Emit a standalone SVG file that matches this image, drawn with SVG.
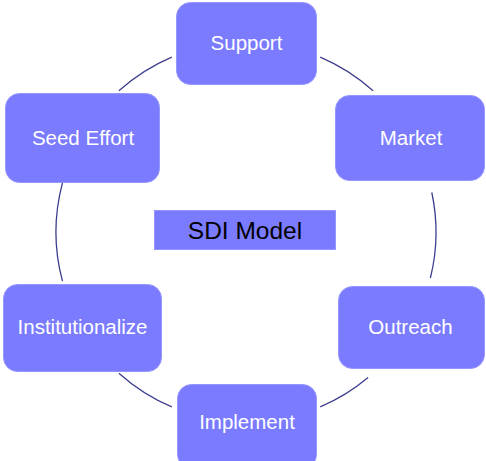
<svg xmlns="http://www.w3.org/2000/svg" width="486" height="461" viewBox="0 0 486 461">
<style>
.box{fill:#7b7bff;stroke:#9696ff;stroke-width:1}
.lbl{font-family:"Liberation Sans",Arial,sans-serif;font-size:20.5px;fill:#ffffff;text-anchor:middle}
.title{font-family:"Liberation Sans",Arial,sans-serif;font-size:24.5px;fill:#000000;text-anchor:middle}
.arc{fill:none;stroke:#3d3d8f;stroke-width:1.3}
</style>
<rect width="486" height="461" fill="#ffffff"/>
<g id="connectors">
<path class="arc" d="M118.9,90.8 A190,190 0 0 1 171.8,57.1"/>
<path class="arc" d="M320.2,57.1 A190,190 0 0 1 373.1,90.8"/>
<path class="arc" d="M431.8,192.5 A190,190 0 0 1 430.4,278"/>
<path class="arc" d="M368.1,377.5 A190,190 0 0 1 320.2,406.9"/>
<path class="arc" d="M171.8,406.9 A190,190 0 0 1 118.9,373.2"/>
<path class="arc" d="M62.5,281.2 A190,190 0 0 1 62.5,182.8"/>
</g>
<g id="support">
<rect class="box" x="176.5" y="2.5" width="140" height="82" rx="14"/>
<text class="lbl" x="246.5" y="50">Support</text>
</g>
<g id="market">
<rect class="box" x="335.5" y="95.5" width="149" height="85" rx="14"/>
<text class="lbl" x="411" y="145">Market</text>
</g>
<g id="outreach">
<rect class="box" x="338.5" y="286.5" width="146" height="82" rx="14"/>
<text class="lbl" x="410.5" y="334">Outreach</text>
</g>
<g id="implement">
<rect class="box" x="177.5" y="384.5" width="139" height="84" rx="14"/>
<text class="lbl" x="247" y="429">Implement</text>
</g>
<g id="institutionalize">
<rect class="box" x="3.5" y="284.5" width="158" height="87" rx="14"/>
<text class="lbl" x="82.5" y="334">Institutionalize</text>
</g>
<g id="seed-effort">
<rect class="box" x="5.5" y="93.5" width="154" height="89" rx="14"/>
<text class="lbl" x="83" y="145">Seed Effort</text>
</g>
<g id="sdi-model">
<rect class="box" x="154.5" y="210.5" width="181" height="39"/>
<text class="title" x="245" y="239">SDI Model</text>
</g>
</svg>
